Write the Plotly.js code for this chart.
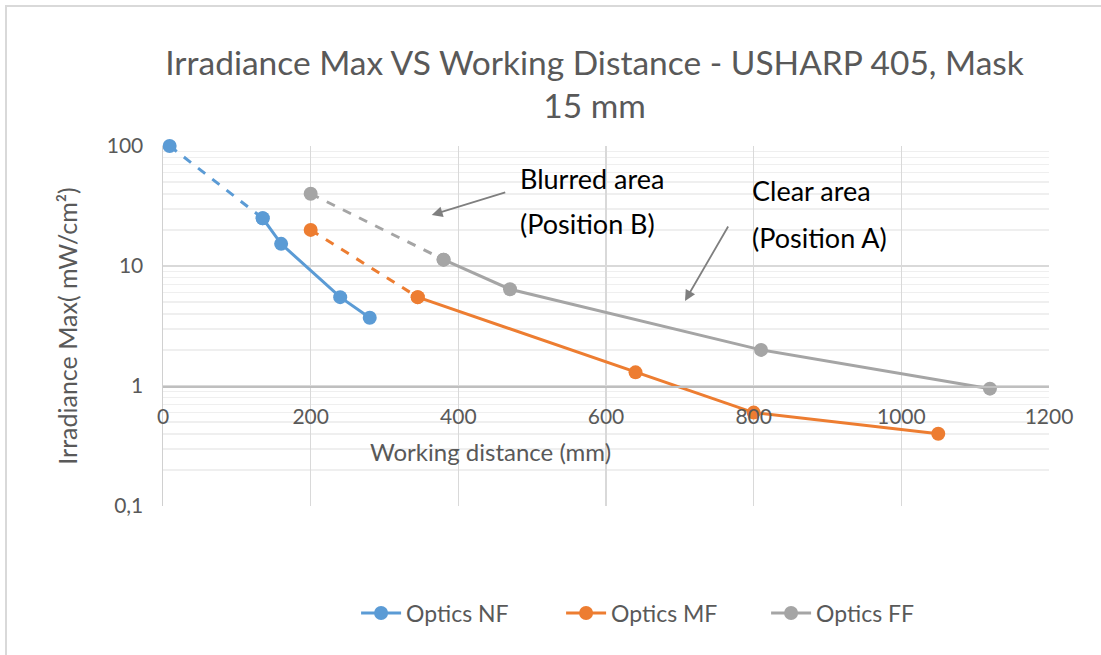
<!DOCTYPE html>
<html>
<head>
<meta charset="utf-8">
<script src="https://cdn.plot.ly/plotly-3.0.1.min.js"></script>
<style>
html,body{margin:0;padding:0;background:#fff;}
#wrap{position:relative;width:1101px;height:655px;}
#chart{position:absolute;left:0;top:0;width:1101px;height:655px;}
#frame{position:absolute;left:5px;top:5px;width:1110px;height:670px;border-top:2px solid #d9d9d9;border-left:2px solid #d9d9d9;pointer-events:none;}
</style>
</head>
<body>
<div id="wrap"><div id="chart"></div><div id="frame"></div></div>
<script>
// ---- data ----
const seriesNames = ["Optics NF", "Optics MF", "Optics FF"];
const nfX = [9, 135, 160, 240, 280];
const nfY = [100, 25, 15.3, 5.5, 3.7];
const mfX = [200, 345, 640, 800, 1050];
const mfY = [20, 5.5, 1.3, 0.6, 0.4];
const ffX = [200, 380, 470, 810, 1120];
const ffY = [40, 11.3, 6.4, 2.0, 0.95];
const xTickVals = [0, 200, 400, 600, 800, 1000, 1200];
const yTickVals = [0.1, 1, 10, 100];
const yTickText = ["0,1", "1", "10", "100"];
const titleText = "Irradiance Max VS Working Distance - USHARP 405, Mask<br>15 mm";
const xTitle = "Working distance (mm)";
const yTitle = "Irradiance Max( mW/cm²)";
const noteBlurred = ["Blurred area", "(Position B)"];
const noteClear = ["Clear area", "(Position A)"];

const colors = ["#5b9bd5", "#ed7d31", "#a5a5a5"];
const FONT = "Lato, 'Open Sans', sans-serif";
const TXT = "#595959";

function pair(name, xs, ys, color) {
  // first segment dashed (blurred zone), remainder solid
  return [
    {x: xs.slice(0, 2), y: ys.slice(0, 2), type: "scatter", mode: "lines+markers", cliponaxis: false,
     line: {color: color, width: 3, dash: "dash"}, marker: {color: color, size: 14},
     showlegend: false, name: name},
    {x: xs.slice(1), y: ys.slice(1), type: "scatter", mode: "lines+markers", cliponaxis: false,
     line: {color: color, width: 3}, marker: {color: color, size: 14},
     name: name}
  ];
}

const traces = [].concat(
  pair(seriesNames[0], nfX, nfY, colors[0]),
  pair(seriesNames[1], mfX, mfY, colors[1]),
  pair(seriesNames[2], ffX, ffY, colors[2])
);

// helper: pixel row inside the plot area -> paper fraction (plot area rows 146..506)
function py(p) { return (506 - p) / 360; }

const noteFont = {family: FONT, size: 27, color: "#000"};
const layout = {
  width: 1101, height: 655,
  paper_bgcolor: "#ffffff", plot_bgcolor: "#ffffff",
  margin: {l: 163, r: 52, t: 146, b: 149, pad: 0},
  font: {family: FONT, color: TXT},
  title: {text: titleText, font: {family: FONT, size: 33.5, color: TXT},
          x: 0.54, xref: "container", xanchor: "center",
          y: 0.886, yref: "container", yanchor: "top"},
  xaxis: {
    range: [0, 1200], tickvals: xTickVals, ticks: "",
    showgrid: true, gridcolor: "#d9d9d9", gridwidth: 1.5,
    zeroline: false, showline: true, linecolor: "#bfbfbf", linewidth: 1.5,
    anchor: "free", position: 1/3,
    tickfont: {family: FONT, size: 21, color: TXT}, ticklabelstandoff: 11
  },
  yaxis: {
    type: "log", range: [-1, 2], tickvals: yTickVals, ticktext: yTickText, ticks: "",
    showgrid: true, gridcolor: "#d9d9d9", gridwidth: 1.5,
    zeroline: false, showline: true, linecolor: "#d0d0d0", linewidth: 1.5,
    minor: {dtick: "D1", showgrid: true, gridcolor: "#efefef", gridwidth: 1.5, ticks: ""},
    tickfont: {family: FONT, size: 21, color: TXT}, ticklabelstandoff: 14,
    title: {text: yTitle, font: {family: FONT, size: 25, color: TXT}, standoff: 22}
  },
  legend: {orientation: "h", x: 0.565, xanchor: "center", y: py(613), yanchor: "middle",
           font: {family: FONT, size: 23, color: TXT}, entrywidth: 150, entrywidthmode: "pixels",
           itemwidth: 40},
  annotations: [
    {text: xTitle, xref: "x", x: 444, yref: "paper", y: py(451), xanchor: "center", yanchor: "middle",
     showarrow: false, font: {family: FONT, size: 24, color: TXT}},
    {text: noteBlurred[0], xref: "x", x: 481, yref: "paper", y: py(178), xanchor: "left", yanchor: "middle",
     showarrow: false, font: noteFont},
    {text: noteBlurred[1], xref: "x", x: 481, yref: "paper", y: py(223), xanchor: "left", yanchor: "middle",
     showarrow: false, font: noteFont},
    {text: noteClear[0], xref: "x", x: 795, yref: "paper", y: py(190), xanchor: "left", yanchor: "middle",
     showarrow: false, font: noteFont},
    {text: noteClear[1], xref: "x", x: 795, yref: "paper", y: py(237), xanchor: "left", yanchor: "middle",
     showarrow: false, font: noteFont},
    {text: "", xref: "x", yref: "paper", x: 364, y: py(215), ax: 75, ay: -23,
     showarrow: true, arrowhead: 2, arrowsize: 1.2, arrowwidth: 1.8, arrowcolor: "#7f7f7f"},
    {text: "", xref: "x", yref: "paper", x: 707, y: py(301), ax: 44, ay: -76,
     showarrow: true, arrowhead: 2, arrowsize: 1.2, arrowwidth: 1.8, arrowcolor: "#7f7f7f"}
  ]
};

Plotly.newPlot("chart", traces, layout, {displayModeBar: false, staticPlot: true});
</script>
</body>
</html>
